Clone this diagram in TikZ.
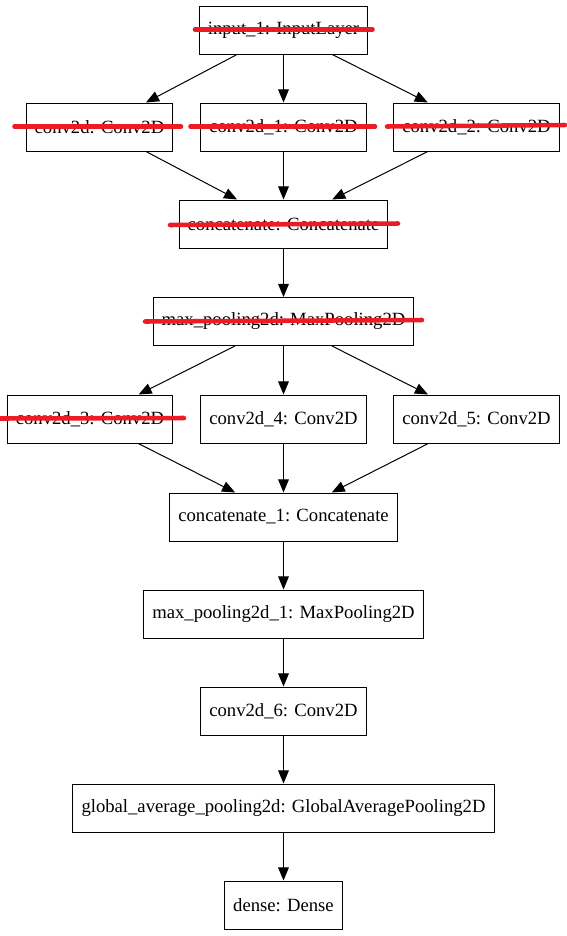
\documentclass[tikz,border=0pt]{standalone}
\usepackage{fontspec}
\setmainfont{Liberation Serif}
\usetikzlibrary{arrows.meta}
\definecolor{strikered}{RGB}{237,28,36}

\begin{document}
\begin{tikzpicture}[x=0.75pt, y=-0.75pt, >={Triangle[length=9.8pt,width=8pt]},
    layer/.style={draw=black, line width=0.75pt, minimum height=36pt, inner xsep=6.4pt,
      font=\fontsize{14}{16}\selectfont},
    link/.style={->, line width=0.75pt},
    strike/.style={draw=strikered, line width=3.4pt, line cap=round}]
  \useasboundingbox (0,0) rectangle (567,936);
  % First block.
  \node[layer] (input) at (283.5,30) {input\_1: InputLayer};
  \node[layer] (conv) at (99.5,127) {conv2d: Conv2D};
  \node[layer] (conva) at (283.5,127) {conv2d\_1: Conv2D};
  \node[layer] (convb) at (476.5,127) {conv2d\_2: Conv2D};
  \node[layer] (concat) at (283.5,224) {concatenate: Concatenate};
  \node[layer] (pool) at (283.5,321.5) {max\_pooling2d: MaxPooling2D};
  % Second block.
  \node[layer] (convc) at (90,419) {conv2d\_3: Conv2D};
  \node[layer] (convd) at (283.5,419) {conv2d\_4: Conv2D};
  \node[layer] (conve) at (476.5,419) {conv2d\_5: Conv2D};
  \node[layer] (concata) at (283.5,517) {concatenate\_1: Concatenate};
  \node[layer] (poola) at (283.5,614) {max\_pooling2d\_1: MaxPooling2D};
  % Head.
  \node[layer] (convf) at (283.5,711) {conv2d\_6: Conv2D};
  \node[layer] (gap) at (283.5,808) {global\_average\_pooling2d: GlobalAveragePooling2D};
  \node[layer] (dense) at (283.5,905) {dense: Dense};
  % Edges.
  \foreach \a/\b in {input/conv, input/conva, input/convb, conv/concat, conva/concat,
      convb/concat, concat/pool, pool/convc, pool/convd, pool/conve, convc/concata,
      convd/concata, conve/concata, concata/poola, poola/convf, convf/gap, gap/dense}
    \draw[link] (\a) -- (\b);
  % Red strike-through marks.
  \draw[strike] (195,29.5) -- (372.5,29.5);
  \draw[strike] (14.5,126.5) -- (181,126.5);
  \draw[strike] (190.5,126.5) -- (375,126.5);
  \draw[strike] (387,126.5) -- (565,125);
  \draw[strike] (170,225) -- (398,223.5);
  \draw[strike] (145,321.5) -- (422,320);
  \draw[strike] (0,418.5) -- (184,418);
\end{tikzpicture}
\end{document}
